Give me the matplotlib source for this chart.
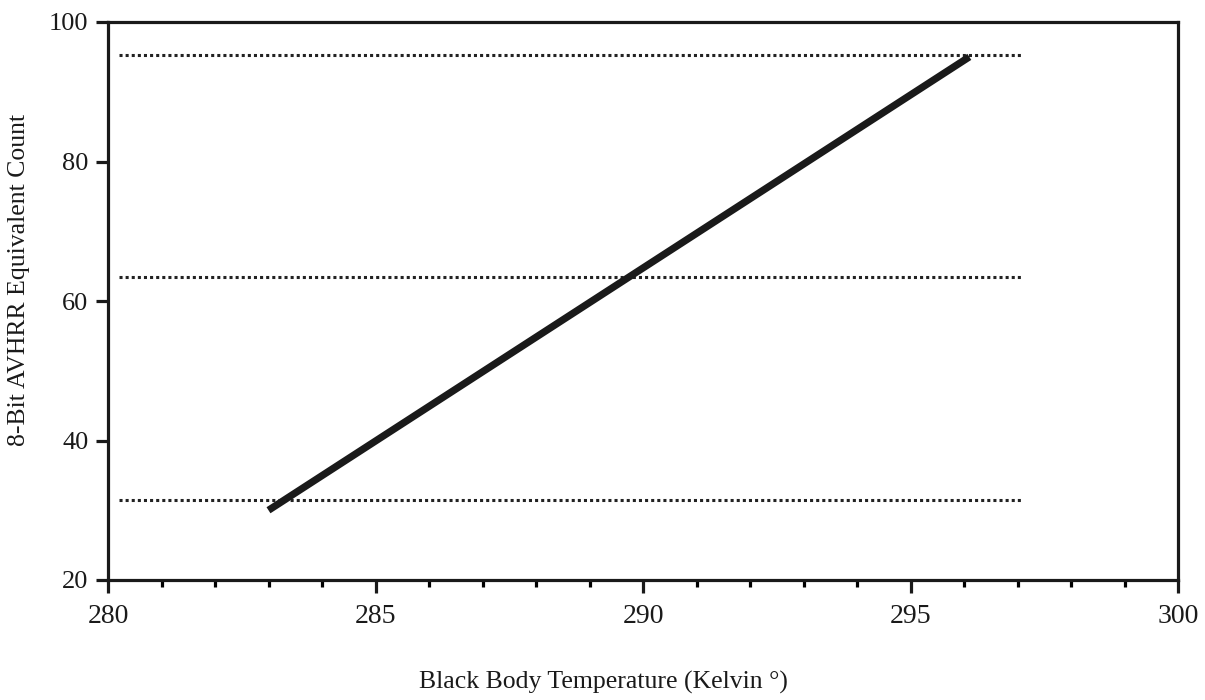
import matplotlib

matplotlib.use("Agg")
import matplotlib.pyplot as plt  # noqa: E402
from matplotlib.ticker import MultipleLocator  # noqa: E402

# calibration line (black body temp -> 8-bit count)
cal_temp = [283.0, 296.1]
cal_count = [30.0, 95.0]

# dotted reference levels
ref_x = [280.2, 297.1]
ref_levels = [95.3, 63.4, 31.4]

x_ticks = [280, 285, 290, 295, 300]
y_ticks = [20, 40, 60, 80, 100]

plt.rcParams["font.family"] = ["Liberation Serif", "DejaVu Serif"]

fig = plt.figure(figsize=(12.05, 7), dpi=100)
ax = fig.add_axes([108 / 1205, 1 - 580 / 700, (1178 - 108) / 1205, (580 - 22) / 700])

for lvl in ref_levels:
    ax.plot(ref_x, [lvl, lvl], color="#222222", lw=2.2, linestyle=(0, (1, 1)))

ax.plot(cal_temp, cal_count, color="#1a1a1a", lw=5.2, solid_capstyle="butt")

ax.set_xlim(280, 300)
ax.set_ylim(20, 100)
ax.set_xticks(x_ticks)
ax.set_yticks(y_ticks)
ax.xaxis.set_minor_locator(MultipleLocator(1))

for s in ax.spines.values():
    s.set_linewidth(2.3)
    s.set_color("#1a1a1a")

ax.tick_params(axis="x", which="major", direction="out", length=9, width=2.3,
               labelsize=20, pad=8, colors="#1a1a1a")
ax.tick_params(axis="x", which="minor", direction="out", length=5, width=2.3)
ax.tick_params(axis="y", which="major", direction="out", length=9, width=2.3,
               labelsize=19, pad=5, colors="#1a1a1a")

ax.set_xlabel("Black Body Temperature (Kelvin \u00b0)", fontsize=18.5, color="#1a1a1a")
ax.set_ylabel("8-Bit AVHRR Equivalent Count", fontsize=18.5, color="#1a1a1a")
ax.xaxis.set_label_coords((603 - 108) / 1070, (580 - 671) / 558)
ax.yaxis.set_label_coords((30 - 108) / 1070, (580 - 280) / 558)

fig.savefig("out.png", dpi=100)
